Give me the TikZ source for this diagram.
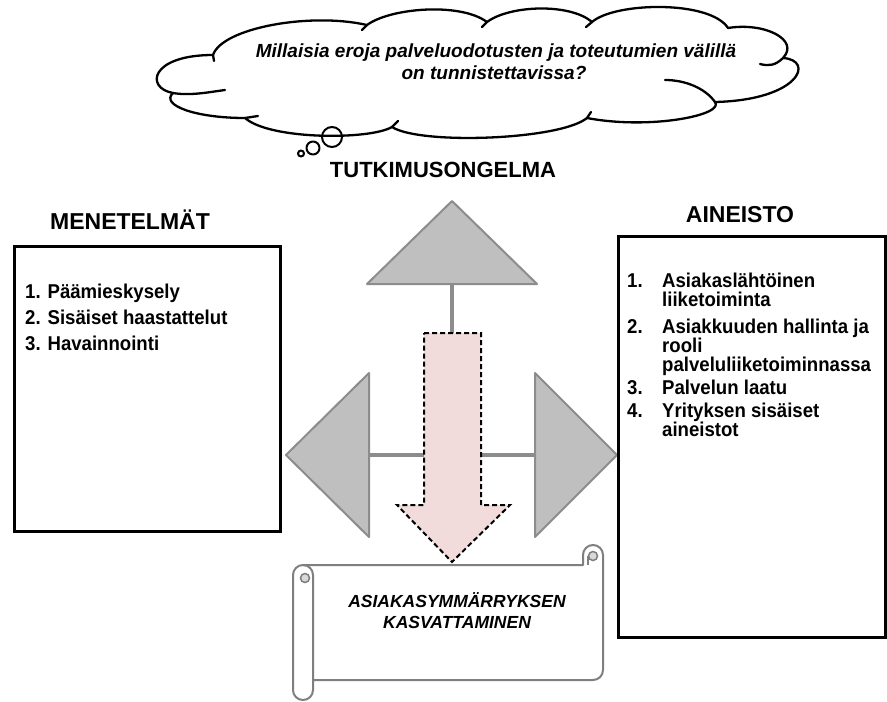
\documentclass[tikz,border=0pt]{standalone}
\usepackage{fontspec}
\setmainfont{Liberation Sans}
\newfontfamily\condfont[FakeStretch=0.93]{Liberation Sans}
\definecolor{trifill}{HTML}{BFBFBF}
\definecolor{triline}{HTML}{8C8C8C}
\definecolor{pinkfill}{HTML}{F2DCDB}
\definecolor{scrollline}{HTML}{7F7F7F}
\begin{document}
\begin{tikzpicture}[x=1pt,y=-1pt,
  box/.style={draw=black,line width=3pt},
  tri/.style={draw=triline,fill=trifill,line width=2pt,line join=round},
  stem/.style={draw=triline,line width=4pt},
  bigarrow/.style={draw=black,fill=pinkfill,line width=2pt,dash pattern=on 5pt off 3pt},
  scrollshape/.style={draw=scrollline,fill=white,line width=2pt,line join=round},
  curl/.style={draw=scrollline,fill=gray!30,line width=1.5pt},
  cloudline/.style={draw=black,line width=2.3pt,line cap=round,line join=round},
  head/.style={font=\fontsize{23}{26}\selectfont\bfseries,inner sep=0pt,anchor=base},
  item/.style={font=\condfont\fontsize{20}{20}\selectfont\bfseries,inner sep=0pt,anchor=base west},
  ctext/.style={font=\fontsize{19}{22}\selectfont\bfseries\itshape,inner sep=0pt,anchor=base},
  stext/.style={font=\fontsize{17.5}{21}\selectfont\bfseries\itshape,inner sep=0pt,anchor=base}]
\path[use as bounding box,fill=white] (0,0) rectangle (887,702);

% ---- three-way arrow (grey) ----
\coordinate (upA) at (452,201);
\coordinate (upL) at (367,284);
\coordinate (upR) at (537,284);
\coordinate (upB) at (452,284);
\coordinate (hub) at (452,455);
\coordinate (lA) at (286,455);
\coordinate (lT) at (369,373);
\coordinate (lBt) at (369,537);
\coordinate (lB) at (369,455);
\coordinate (rA) at (617,455);
\coordinate (rT) at (535,373);
\coordinate (rBt) at (535,537);
\coordinate (rB) at (535,455);
\draw[stem] (upB) -- (hub);
\draw[stem] (lB) -- (rB);
\draw[tri] (upA) -- (upL) -- (upR) -- cycle;
\draw[tri] (lA) -- (lT) -- (lBt) -- cycle;
\draw[tri] (rA) -- (rT) -- (rBt) -- cycle;

% ---- pink down arrow ----
\draw[bigarrow] (424,333) -- (481,333) -- (481,505) -- (510,505) -- (452,562)
  -- (397,505) -- (424,505) -- cycle;

% ---- boxes ----
\draw[box] (14,246) rectangle (280,531);
\draw[box] (618,236) rectangle (885.5,637);

% ---- headings ----
\node[head,font=\fontsize{22}{26}\selectfont\bfseries] (tutk) at (443,177) {TUTKIMUSONGELMA};
\node[head] (mene) at (130,229) {MENETELMÄT};
\node[head] (aine) at (740,222) {AINEISTO};

% ---- left list ----
\node[item] (m1) at (25,298) {1. Päämieskysely};
\node[item] (m2) at (25,324) {2. Sisäiset haastattelut};
\node[item] (m3) at (25,350) {3. Havainnointi};

% ---- right list ----
\node[item] (a1n) at (627,287) {1.};
\node[item] (a1a) at (662,287) {Asiakaslähtöinen};
\node[item] (a1b) at (662,306) {liiketoiminta};
\node[item] (a2n) at (627,333) {2.};
\node[item] (a2a) at (662,333) {Asiakkuuden hallinta ja};
\node[item] (a2b) at (662,352) {rooli};
\node[item] (a2c) at (662,371) {palveluliiketoiminnassa};
\node[item] (a3n) at (627,394) {3.};
\node[item] (a3a) at (662,394) {Palvelun laatu};
\node[item] (a4n) at (627,417) {4.};
\node[item] (a4a) at (662,417) {Yrityksen sisäiset};
\node[item] (a4b) at (662,436) {aineistot};

% ---- cloud ----
\draw[cloudline,fill=white] (213,55)
  .. controls (222,28) and (310,12) .. (367,25)
  .. controls (390,8) and (460,2) .. (487,22)
  .. controls (510,5) and (570,3) .. (592,22)
  .. controls (615,2) and (710,0) .. (728,28)
  .. controls (765,22) and (800,40) .. (783,58)
  .. controls (815,60) and (800,100) .. (715,102)
  .. controls (725,115) and (650,130) .. (587,118)
  .. controls (560,140) and (420,145) .. (392,127)
  .. controls (370,140) and (270,140) .. (245,118)
  .. controls (195,118) and (160,105) .. (173,93)
  .. controls (145,88) and (150,55) .. (213,55) -- cycle;
\draw[cloudline] (173,93) .. controls (190,96) and (210,92) .. (225,90);
\draw[cloudline] (245,118) -- (258,116);
\draw[cloudline] (715,102) .. controls (705,88) and (685,80) .. (665,80);
\draw[cloudline] (783,58) .. controls (775,66) and (768,66) .. (760,64);
\draw[cloudline] (587,118) -- (591,112);
\draw[cloudline] (392,127) -- (398,121);
\draw[cloudline] (213,55) -- (214,61);
\draw[cloudline] (367,25) -- (362,30);
\draw[cloudline] (487,22) -- (482,27);
\draw[cloudline] (592,22) -- (586,27);
\draw[cloudline,line width=2pt] (332,137) circle[radius=10];
\draw[cloudline,line width=2pt] (313,148) circle[radius=6.5];
\draw[cloudline,line width=2pt] (301,153.5) circle[radius=3];
\node[ctext] (q1) at (496,57) {Millaisia eroja palveluodotusten ja toteutumien välillä};
\node[ctext] (q2) at (494,79) {on tunnistettavissa?};

% ---- scroll ----
\draw[scrollshape] (293,575) arc[start angle=180,end angle=270,radius=10]
  -- (583,565) -- (583,555) arc[start angle=180,end angle=360,radius=10]
  -- (603,670) arc[start angle=0,end angle=90,radius=10]
  -- (313,680) -- (313,690) arc[start angle=0,end angle=180,radius=10]
  -- cycle;
\draw[scrollshape,fill=none] (303,565) arc[start angle=270,end angle=360,radius=10] -- (313,680);
\draw[curl] (305,578) circle[radius=4.5];
\draw[curl] (593,556) circle[radius=4.5];
\draw[scrollshape,fill=none] (588,556) -- (588,565);
\node[stext] (s1) at (457,607) {ASIAKASYMMÄRRYKSEN};
\node[stext] (s2) at (457,628) {KASVATTAMINEN};
\end{tikzpicture}
\end{document}
